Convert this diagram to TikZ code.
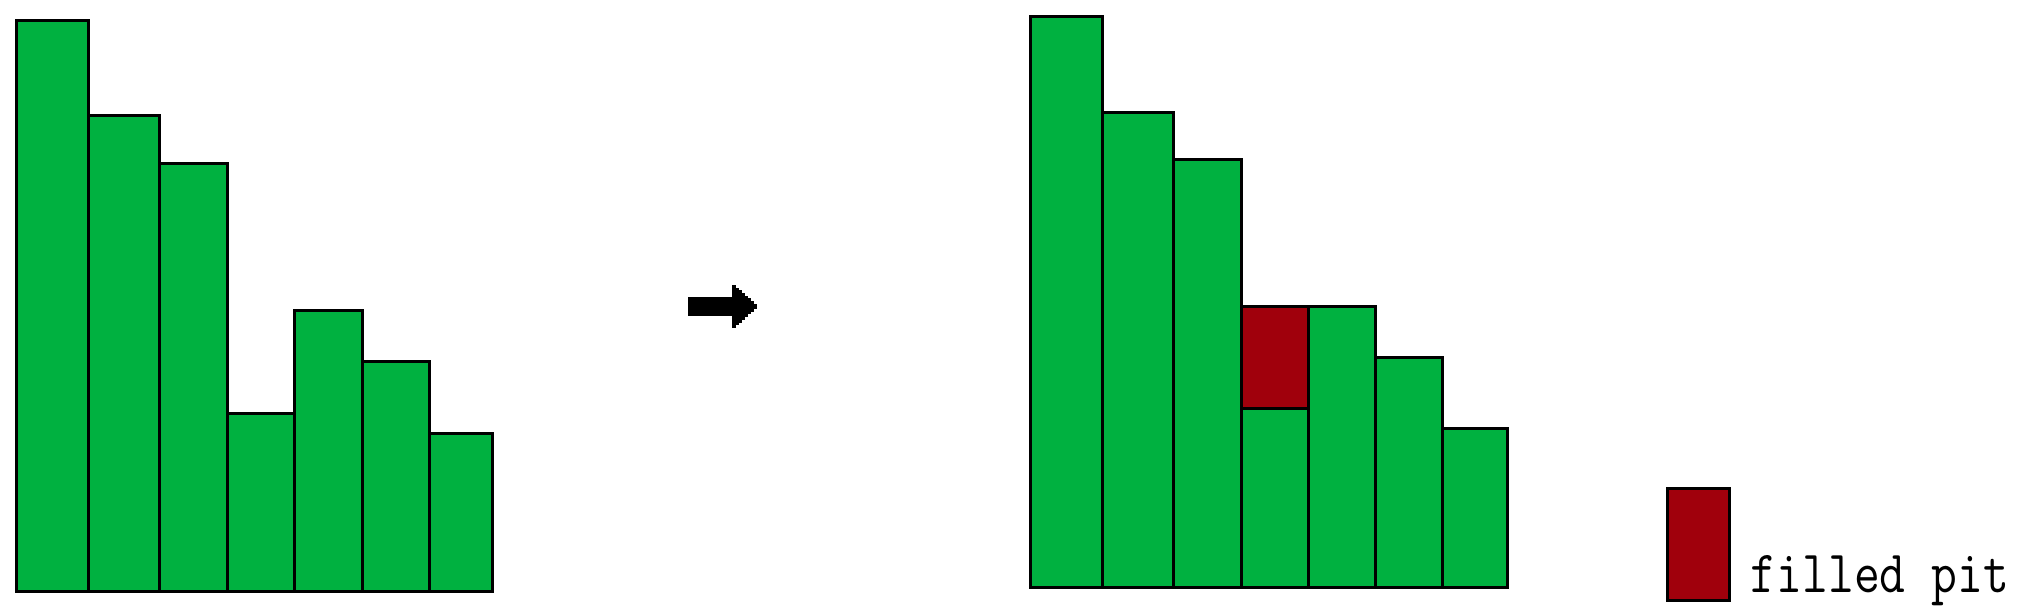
\documentclass[tikz,border=0pt]{standalone}
\definecolor{bargreen}{RGB}{0,177,64}
\definecolor{pitred}{RGB}{160,0,12}
\begin{document}
\begin{tikzpicture}[x=0.25pt,y=-0.25pt,
  bar/.style={draw=black,fill=bargreen,line width=0.75pt},
  pit/.style={draw=black,fill=pitred,line width=0.75pt}]
\useasboundingbox (0,0) rectangle (2036,608);
% left chart
\draw[bar] (16,21) rectangle (88,592);
\draw[bar] (88,116) rectangle (159,592);
\draw[bar] (159,164) rectangle (227,592);
\draw[bar] (227,414) rectangle (294,592);
\draw[bar] (294,311) rectangle (362,592);
\draw[bar] (362,362) rectangle (429,592);
\draw[bar] (429,434) rectangle (492,592);
% arrow
\fill[black] (688,297) rectangle (733,316);
\foreach \i in {0,...,7}{
  \fill[black] ({732+3*\i},{285+2.7*\i}) rectangle ({735.5+3*\i},{328-2.7*\i});
}
% right chart
\draw[bar] (1030,17) rectangle (1102,588);
\draw[bar] (1102,113) rectangle (1173,588);
\draw[bar] (1173,160) rectangle (1241,588);
\draw[bar] (1241,409) rectangle (1308,588);
\draw[pit] (1241,307) rectangle (1308,409);
\draw[bar] (1308,307) rectangle (1375,588);
\draw[bar] (1375,358) rectangle (1442,588);
\draw[bar] (1442,429) rectangle (1507,588);
% legend
\draw[pit] (1667,489) rectangle (1729,601);
\node[anchor=base west,inner sep=0pt] (lbl) at (1750,593) {\scalebox{0.835}[1]{\ttfamily\fontsize{15}{16}\selectfont filled pit}};
\end{tikzpicture}
\end{document}
